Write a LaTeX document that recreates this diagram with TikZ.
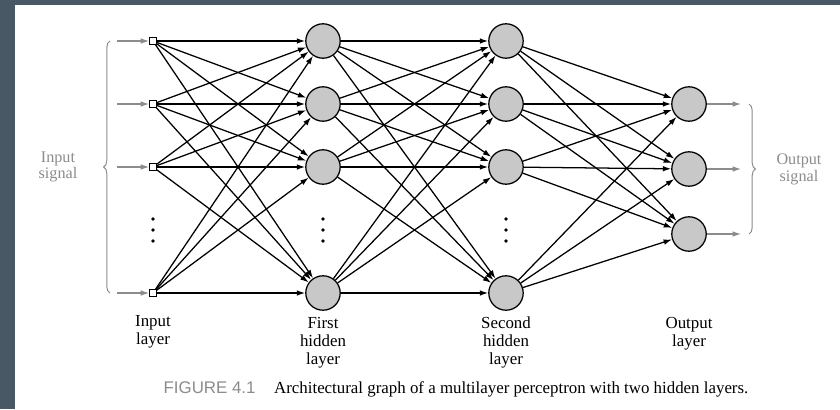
\documentclass[tikz,border=0pt]{standalone}
\usepackage{fontspec}
\setmainfont{Liberation Serif}
\newfontfamily\figsans{Liberation Sans}
\usepackage{xcolor}
\usepackage{tikz}
\usetikzlibrary{arrows.meta,decorations.pathreplacing}

\definecolor{slate}{RGB}{72,88,100}
\definecolor{sigray}{RGB}{140,140,140}
\definecolor{unitgray}{RGB}{200,200,200}

\begin{document}
\begin{tikzpicture}[x=0.025cm,y=-0.025cm,
		unit/.style={circle,draw,line width=0.9pt,fill=unitgray,minimum size=0.86cm,inner sep=0pt},
		inp/.style={rectangle,draw,line width=0.7pt,fill=white,minimum size=0.17cm,inner sep=0pt},
		conn/.style={-{Latex[length=2.1mm,width=1.4mm]},line width=0.9pt},
		sig/.style={-{Latex[length=2.1mm,width=1.4mm]},line width=0.8pt,draw=sigray,fill=sigray},
		lbl/.style={align=center,anchor=north,font=\fontsize{12}{12.8}\selectfont,inner sep=0pt},
		sigtxt/.style={align=center,text=sigray,font=\fontsize{11.5}{12}\selectfont,inner sep=0pt},
		lbrace/.style={decorate,decoration={brace,amplitude=0.16cm},draw=sigray,line width=0.7pt}]
					% Background and frame
					\fill[slate] (0,0) rectangle (840,409);
					\fill[white] (15,5) rectangle (840,409);
					\useasboundingbox (0,0) rectangle (840,409);
					% Define the layers
					\foreach \n/\y in {1/41,2/104,3/167,4/293} {
						\node[inp] (i\n) at (153,\y) {};
						\node[unit] (h\n) at (323,\y) {};
						\node[unit] (s\n) at (506,\y) {};}
					\foreach \n/\y in {1/104,2/169,3/234}
						\node[unit] (o\n) at (689,\y) {};
					% Dots for the missing units
					\foreach \x in {153,323,506} \foreach \y in {219,230,241}
						\fill (\x,\y) circle (1.9);
					% Connections
					\foreach \a in {1,2,3,4} \foreach \b in {1,2,3,4} {
						\draw[conn] (i\a) -- (h\b);
						\draw[conn] (h\a) -- (s\b);}
					\foreach \a in {1,2,3,4} \foreach \b in {1,2,3}
						\draw[conn] (s\a) -- (o\b);
					% Input and output signals
					\foreach \n/\y in {1/41,2/104,3/167,4/293} {
						\coordinate (u\n) at (117,\y);
						\draw[sig] (u\n) -- (i\n);}
					\foreach \n/\y in {1/104,2/169,3/234} {
						\coordinate (v\n) at (741,\y);
						\draw[sig] (o\n) -- (v\n);}
					\coordinate (lb1) at (110,293);
					\coordinate (lb2) at (110,41);
					\draw[lbrace] (lb1) -- (lb2);
					\coordinate (rb1) at (749,104);
					\coordinate (rb2) at (749,234);
					\draw[lbrace] (rb1) -- (rb2);
					\node[sigtxt] (insig) at (58,167) {Input\\signal};
					\node[sigtxt] (outsig) at (799,169) {Output\\signal};
					% Layer labels
					\node[lbl] (linp) at (153,315) {Input\\layer};
					\node[lbl] (lh1) at (323,317) {First\\hidden\\layer};
					\node[lbl] (lh2) at (506,317) {Second\\hidden\\layer};
					\node[lbl] (lout) at (689,317) {Output\\layer};
					% Caption
					\node[font=\fontsize{12}{13}\selectfont,inner sep=0pt] (cap) at (456,389)
						{{\figsans\color{sigray}FIGURE 4.1}\hspace{1.1em}Architectural graph of a multilayer perceptron with two hidden layers.};
				\end{tikzpicture}
\end{document}
